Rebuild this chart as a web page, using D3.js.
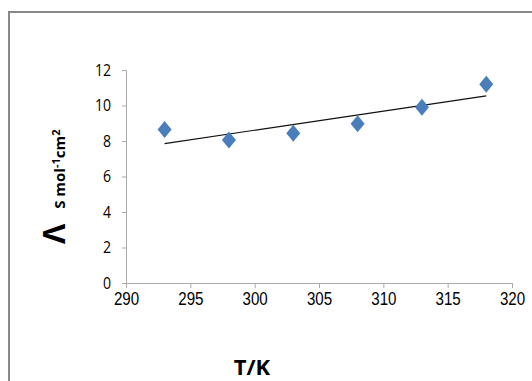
<!DOCTYPE html>
<html>
<head>
<meta charset="utf-8">
<script src="https://cdn.jsdelivr.net/npm/d3@7"></script>
<style>
  body { margin: 0; background: #fff; }
  .tick text { fill: #000; }
</style>
</head>
<body>
<div id="chart"></div>
<script>
// temperature (K) and molar conductance values
var temps = [293, 298, 303, 308, 313, 318];
var lambda = [8.65, 8.05, 8.43, 8.97, 9.9, 11.2];
var xTicks = [290, 295, 300, 305, 310, 315, 320];
var yTicks = [0, 2, 4, 6, 8, 10, 12];

var W = 532, H = 381;
var margin = {top: 70, right: 20, bottom: 98, left: 126},
    width = 512 - margin.left,
    height = 283 - margin.top;

var svg = d3.select("#chart")
  .append("svg")
    .attr("width", W)
    .attr("height", H);

// outer frame (open on the right/bottom like the cropped original)
svg.append("path")
  .attr("d", "M9," + H + " V12 H" + W)
  .attr("fill", "none")
  .attr("stroke", "#888")
  .attr("stroke-width", 2);

var g = svg.append("g")
  .attr("transform", "translate(" + margin.left + "," + margin.top + ")");

var x = d3.scaleLinear().domain([290, 320]).range([0, width]);
var y = d3.scaleLinear().domain([0, 12]).range([height, 0]);

// X axis
var xAxis = g.append("g")
  .attr("transform", "translate(0," + height + ")")
  .call(d3.axisBottom(x).tickValues(xTicks).tickSize(5).tickPadding(4).tickFormat(d3.format("d")));
xAxis.selectAll("line, path").attr("stroke", "#aaa");
xAxis.selectAll("text")
  .style("font-family", "'Liberation Sans', Arial, sans-serif")
  .style("font-size", "18px")
  .attr("transform", "scale(0.84,1)");

// Y axis
var yAxis = g.append("g")
  .call(d3.axisLeft(y).tickValues(yTicks).tickSize(4).tickPadding(11));
yAxis.selectAll("line, path").attr("stroke", "#aaa");
yAxis.selectAll("text")
  .style("font-family", "'Open Sans', sans-serif")
  .style("font-size", "16px")
  .attr("transform", "translate(-15,0) scale(0.88,1) translate(15,0)");

// linear trend line (least squares on the data)
var mx = d3.mean(temps), my = d3.mean(lambda);
var sxy = d3.sum(temps, function(t, i) { return (t - mx) * (lambda[i] - my); });
var sxx = d3.sum(temps, function(t) { return (t - mx) * (t - mx); });
var slope = sxy / sxx, icpt = my - slope * mx;
var ends = [d3.min(temps), d3.max(temps)];

g.append("line")
  .attr("x1", x(ends[0])).attr("y1", y(icpt + slope * ends[0]))
  .attr("x2", x(ends[1])).attr("y2", y(icpt + slope * ends[1]))
  .attr("stroke", "#111")
  .attr("stroke-width", 1.2);

// diamond markers
var pts = temps.map(function(t, i) { return {t: t, v: lambda[i]}; });
g.selectAll(".pt")
  .data(pts)
  .enter()
  .append("path")
    .attr("class", "pt")
    .attr("transform", function(d) { return "translate(" + x(d.t) + "," + y(d.v) + ")"; })
    .attr("d", "M0,-8.5 L7,0 L0,8.5 L-7,0 Z")
    .attr("fill", "#4a7ebb");

// axis titles
svg.append("text")
  .attr("x", 252)
  .attr("y", 375)
  .style("text-anchor", "middle")
  .style("font-family", "'Open Sans', sans-serif")
  .style("font-weight", "bold")
  .style("font-size", "22px")
  .text("T/K");

var yl = svg.append("text")
  .attr("transform", "translate(65,244) rotate(-90)")
  .style("font-family", "'Open Sans', sans-serif")
  .style("font-weight", "bold");
yl.append("tspan")
  .style("font-size", "31px")
  .text("Λ");
yl.append("tspan")
  .style("font-size", "15px")
  .attr("dx", "15")
  .text("S mol");
yl.append("tspan")
  .style("font-size", "11px")
  .attr("dy", "-5")
  .text("-1");
yl.append("tspan")
  .style("font-size", "15px")
  .attr("dy", "5")
  .text("cm");
yl.append("tspan")
  .style("font-size", "11px")
  .attr("dy", "-5")
  .text("2");
</script>
</body>
</html>
